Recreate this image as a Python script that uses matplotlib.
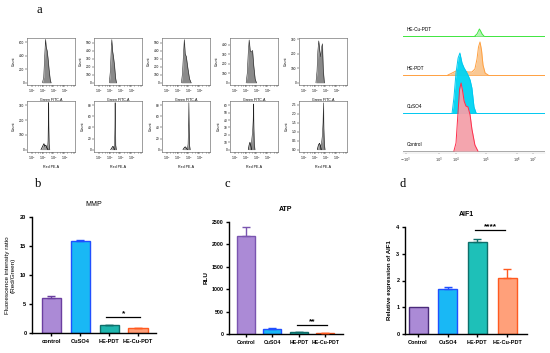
import matplotlib
matplotlib.use("Agg")
import matplotlib.pyplot as plt
import numpy as np

plt.rcParams['font.family'] = ['Liberation Sans', 'DejaVu Sans']
plt.rcParams['mathtext.fontset'] = 'dejavusans'

W, H = 550, 353

# ---------------- data ----------------
groups_b = ['control', 'CuSO4', 'HE-PDT', 'HE-Cu-PDT']
groups_cd = ['Control', 'CuSO4', 'HE-PDT', 'HE-Cu-PDT']

mmp_mean = [6.1, 15.8, 1.3, 0.8]
mmp_err = [0.3, 0.3, 0.15, 0.1]

atp_mean = [2190, 120, 45, 15]
atp_err = [190, 15, 5, 3]

aif1_mean = [1.0, 1.67, 3.45, 2.08]
aif1_err = [0.0, 0.08, 0.1, 0.35]

# small flow histograms, x in log10 units, y in counts
fitc_x = [[2.98, 3.10, 3.20, 3.27, 3.33, 3.42, 3.50, 3.60, 3.70, 3.78],
          [2.97, 3.07, 3.15, 3.20, 3.27, 3.35, 3.45, 3.55, 3.63],
          [3.35, 3.45, 3.55, 3.62, 3.70, 3.80, 3.95, 4.10, 4.25],
          [3.05, 3.15, 3.25, 3.33, 3.42, 3.52, 3.64, 3.75, 3.88, 4.00],
          [3.12, 3.22, 3.30, 3.38, 3.48, 3.58, 3.66, 3.72, 3.80, 3.90]]
fitc_counts = [[0, 80, 420, 640, 530, 470, 360, 190, 50, 0],
               [0, 150, 420, 540, 400, 330, 220, 60, 0],
               [0, 120, 380, 540, 360, 330, 180, 50, 0],
               [0, 100, 330, 450, 340, 320, 340, 180, 40, 0],
               [0, 80, 220, 290, 220, 180, 250, 270, 90, 0]]
fitc_step = [200, 100, 100, 100, 100]
fitc_top = [600, 500, 500, 400, 300]
fitc_ylim = [660, 560, 560, 470, 310]

pe_x = [[3.45, 3.50, 3.53, 3.55, 3.57, 3.60, 3.65],
        [3.40, 3.46, 3.49, 3.51, 3.53, 3.56, 3.62],
        [3.90, 3.97, 4.01, 4.04, 4.07, 4.10, 4.16],
        [3.50, 3.58, 3.65, 3.70, 3.73, 3.76, 3.80, 3.86],
        [3.55, 3.65, 3.72, 3.78, 3.82, 3.85, 3.90, 3.96]]
pe_counts = [[0, 60, 200, 320, 150, 40, 0],
             [0, 10, 40, 85, 40, 8, 0],
             [0, 10, 40, 85, 35, 8, 0],
             [0, 15, 25, 40, 62, 30, 8, 0],
             [0, 0.4, 0.8, 1.5, 2.6, 1.2, 0.3, 0]]
pe_bump_x = [[2.85, 2.95, 3.05, 3.12, 3.20, 3.30, 3.40, 3.50],
             [3.10, 3.20, 3.30, 3.38, 3.45],
             [3.50, 3.60, 3.70, 3.80, 3.90],
             [3.25, 3.32, 3.40, 3.48, 3.55],
             [3.25, 3.35, 3.45, 3.55, 3.62]]
pe_bump_counts = [[0, 15, 30, 40, 22, 30, 10, 0],
                  [0, 3, 6, 4, 0],
                  [0, 3, 5, 3, 0],
                  [0, 6, 10, 5, 0],
                  [0, 0.25, 0.35, 0.2, 0]]
pe_step = [100, 20, 20, 10, 0.5]
pe_top = [300, 80, 80, 60, 2.5]
pe_ylim = [330, 88, 88, 66, 2.7]

small_ticks = [2, 3, 4, 5]
small_ticklabels = ['$10^2$', '$10^3$', '$10^4$', '$10^5$']

# overlay histogram (log10 units, heights)
ov_names = ['Control', 'CuSO4', 'HE-PDT', 'HE-Cu-PDT']
ov_x = [[3.93, 4.00, 4.07, 4.12, 4.17, 4.22, 4.27, 4.33, 4.40, 4.47, 4.53, 4.63, 4.73],
        [3.87, 3.93, 4.00, 4.07, 4.13, 4.20, 4.27, 4.33, 4.40, 4.47, 4.53, 4.60, 4.67],
        [3.73, 3.87, 4.00, 4.13, 4.27, 4.40, 4.53, 4.63, 4.70, 4.75, 4.80, 4.85, 4.90, 4.97, 5.07],
        [4.63, 4.70, 4.75, 4.78, 4.82, 4.87, 4.93]]
ov_h = [[0, 8, 40, 62, 68, 60, 50, 45, 44, 36, 22, 6, 0],
        [0, 15, 40, 55, 60, 50, 45, 42, 38, 33, 25, 6, 0],
        [0, 2, 4, 5, 4, 3, 3, 6, 16, 28, 33, 25, 10, 2, 0],
        [0, 2, 5, 7, 5, 2, 0]]
ov_ticks = [2.33, 3.43, 4.0, 5.0, 6.03, 6.57]
ov_ticklabels = ['$-10^3$', '$10^3$', '$10^4$', '$10^5$', '$10^6$', '$10^7$']


def px_axes(fig, x0, y0, x1, y1):
    return fig.add_axes([x0 / W, 1 - y1 / H, (x1 - x0) / W, (y1 - y0) / H])


fig = plt.figure(figsize=(W / 100, H / 100), dpi=100)

# ---------------- panel a : small histograms ----------------
lefts = [27, 94, 162, 230, 299]
for i in range(5):
    for row in range(2):
        if row == 0:
            ax = px_axes(fig, lefts[i], 38, lefts[i] + 48, 85)
            xs, ys = fitc_x[i], fitc_counts[i]
            step, top, ytop = fitc_step[i], fitc_top[i], fitc_ylim[i]
            xlab = 'Green FITC-A'
        else:
            ax = px_axes(fig, lefts[i], 101, lefts[i] + 48, 152)
            xs, ys = pe_x[i], pe_counts[i]
            step, top, ytop = pe_step[i], pe_top[i], pe_ylim[i]
            xlab = 'Red PE-A'
            ax.fill_between(pe_bump_x[i], 0, pe_bump_counts[i], color='#9a9a9a', lw=0)
            ax.plot(pe_bump_x[i], pe_bump_counts[i], color='black', lw=0.5)
        ax.fill_between(xs, 0, ys, color='#8a8a8a', lw=0)
        ax.plot(xs, ys, color='#222222', lw=0.4)
        ax.set_xlim(1.55, 6.0)
        ax.set_ylim(-ytop * 0.05, ytop)
        ax.set_xticks(small_ticks)
        ax.set_xticklabels(small_ticklabels)
        ax.set_xticks(np.log10(np.outer([2, 4, 6, 8], [100, 1000, 10000, 100000]).ravel()), minor=True)
        ax.set_yticks(np.arange(0, top + step / 2, step))
        ax.tick_params(labelsize=2.3, length=1.2, width=0.3, pad=0.8)
        ax.tick_params(which='minor', length=0.7, width=0.3)
        ax.set_xlabel(xlab, fontsize=2.6, labelpad=2)
        ax.set_ylabel('Count', fontsize=2.6, labelpad=2)
        for s in ax.spines.values():
            s.set_linewidth(0.4)
            s.set_color('#555555')

# ---------------- panel a : overlay ----------------
ax = px_axes(fig, 403, 25, 545, 153)
offsets = [2, 40, 78, 117]
lines = ['#ff2d4b', '#00c8f0', '#ffa040', '#3ee63e']
fills = ['#f4a0aa', '#00d4f2', '#f9c58e', '#b5f0b5']
base_cols = ['#a8a8a8', '#00c8f0', '#ffa040', '#3ee63e']
for k in [3, 2, 1, 0]:
    z = 5 - k
    ax.plot([2.233, 6.967], [offsets[k], offsets[k]], color=base_cols[k], lw=0.7, zorder=z)
    y = np.array(ov_h[k]) + offsets[k]
    ax.fill_between(ov_x[k], offsets[k], y, color=fills[k], lw=0, zorder=z, alpha=0.95)
    ax.plot(ov_x[k], y, color=lines[k], lw=0.7, zorder=z)
    ax.text(2.37, offsets[k] + 4, ov_names[k], fontsize=3.4, va='bottom', ha='left', zorder=10)
ax.set_xlim(2.233, 6.967)
ax.set_ylim(0, 128)
ax.set_yticks([])
ax.set_xticks(ov_ticks)
ax.set_xticklabels(ov_ticklabels)
ax.tick_params(labelsize=2.6, length=1, width=0.3, pad=1, colors='#333333')
for s in ['top', 'right', 'left']:
    ax.spines[s].set_visible(False)
ax.spines['bottom'].set_linewidth(0.3)
ax.spines['bottom'].set_color('#cccccc')


# ---------------- bar charts ----------------
def bar_panel(rect, names, mean, err, fills, edges, ylim, yticks, xlim, width,
              title, title_bold, ylabel, tick_fs, sig):
    ax = px_axes(fig, *rect)
    x = np.arange(len(names))
    ax.bar(x, mean, width=width, color=fills, edgecolor=edges, linewidth=1.0, zorder=2)
    for i in range(len(x)):
        if err[i] > 0:
            ax.errorbar(x[i], mean[i], yerr=[[0], [err[i]]], fmt='none',
                        ecolor=edges[i], elinewidth=1.0, capsize=3.2, capthick=1.0, zorder=3)
    ax.set_xlim(*xlim)
    ax.set_ylim(*ylim)
    ax.set_yticks(yticks)
    ax.set_xticks(x)
    ax.set_xticklabels(names, fontweight='bold')
    for lab in ax.get_yticklabels():
        lab.set_fontweight('bold')
    ax.tick_params(labelsize=tick_fs, length=2.5, width=1.0, pad=1.5)
    for s in ['top', 'right']:
        ax.spines[s].set_visible(False)
    for s in ['left', 'bottom']:
        ax.spines[s].set_linewidth(1.0)
    ax.set_title(title, fontsize=5, fontweight='bold' if title_bold else 'normal', pad=8)
    ax.set_ylabel(ylabel[0], fontsize=ylabel[1], fontweight=ylabel[2], labelpad=ylabel[3])
    x0, x1, ys, ytxt, txt = sig
    ax.plot([x0, x1], [ys, ys], color='black', lw=0.9)
    ax.text((x0 + x1) / 2, ytxt, txt, ha='center', va='center', fontsize=6, fontweight='bold')
    return ax


purple, purple_e = '#ab8ad6', '#6b3fa0'
blue, blue_e = '#19b8f5', '#2050ff'
teal, teal_e = '#1fb6ae', '#0f6e6a'
orange, orange_e = '#ff9f78', '#ff5a20'

bar_panel((32, 217, 156, 333), groups_b, mmp_mean, mmp_err,
          [purple, blue, teal, orange], [purple_e, blue_e, teal_e, orange_e],
          (0, 20), [0, 5, 10, 15, 20], (-0.66, 3.62), 0.66,
          'MMP', False, ('Fluorescence intensity ratio\n(Red/Green)', 4.6, 'normal', 3),
          4.1, (1.9, 3.07, 2.75, 3.4, '*'))

bar_panel((229, 222, 343, 334), groups_cd, atp_mean, atp_err,
          [purple, blue, teal, orange], ['#7a55b0', blue_e, teal_e, orange_e],
          (0, 2500), [0, 500, 1000, 1500, 2000, 2500], (-0.65, 3.68), 0.68,
          'ATP', True, ('RLU', 4.6, 'bold', 2),
          3.7, (1.94, 3.08, 200, 270, '**'))

bar_panel((405, 227, 527, 334), groups_cd, aif1_mean, aif1_err,
          [purple, blue, '#1ec0b8', '#ffa07a'], ['#4a2a7a', blue_e, teal_e, orange_e],
          (0, 4), [0, 1, 2, 3, 4], (-0.44, 3.67), 0.64,
          'AIF1', True, ('Relative expression of AIF1', 4.4, 'bold', 3),
          4.0, (1.92, 2.93, 3.89, 4.02, '****'))

# panel letters
for lab, (px, py) in zip('abcd', [(39, 10), (38, 184), (227, 184), (403, 184)]):
    fig.text(px / W, 1 - py / H, lab, fontsize=9, family='Liberation Serif',
             ha='center', va='center')

fig.savefig('out.png', dpi=100)
